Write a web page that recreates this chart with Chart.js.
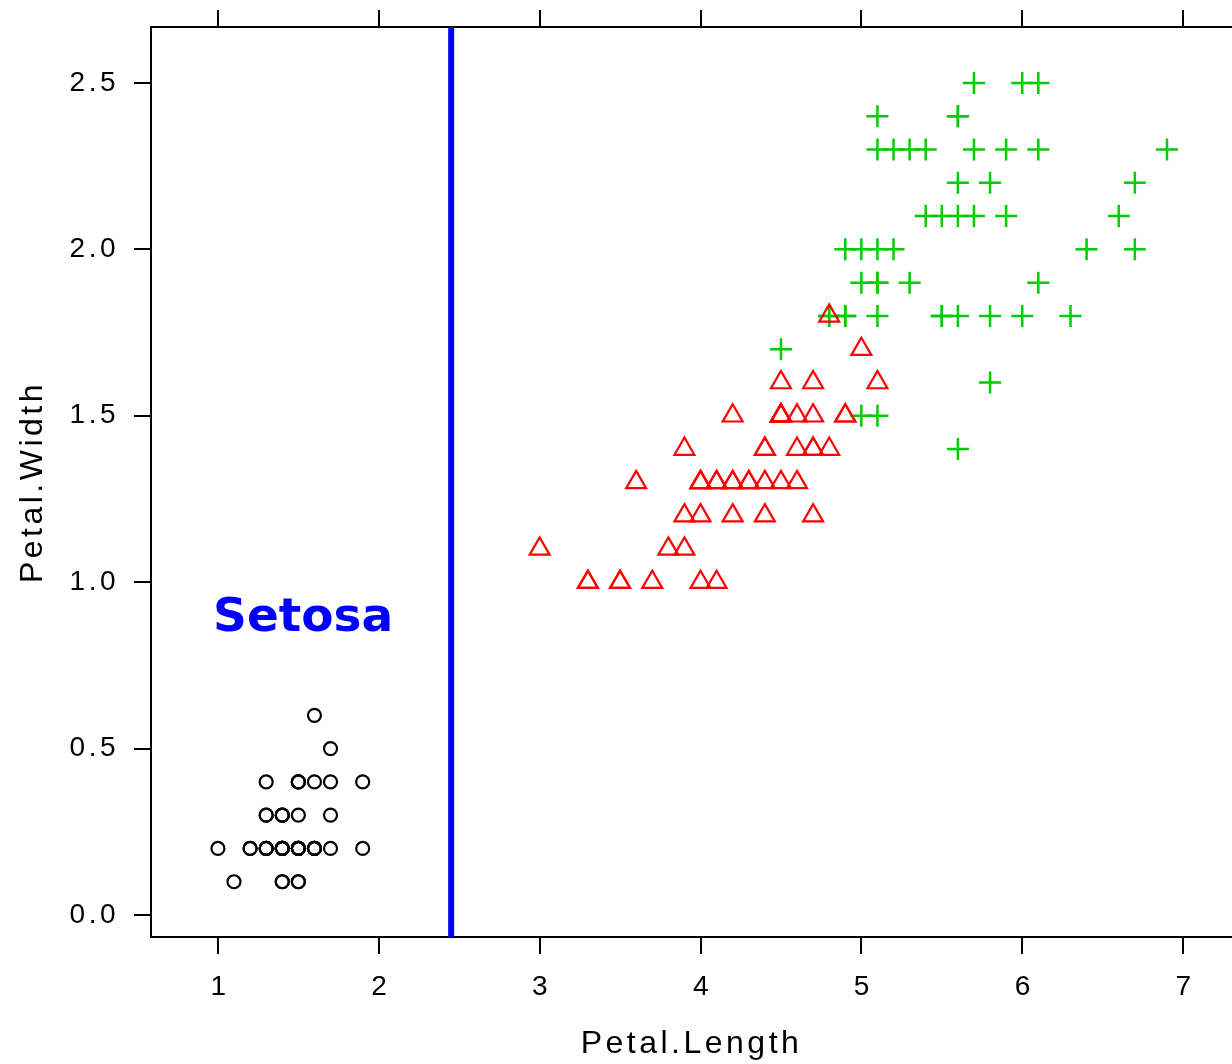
<!DOCTYPE html>
<html>
<head>
<meta charset="utf-8">
<script src="https://cdn.jsdelivr.net/npm/chart.js@4"></script>
<style>
  body { margin: 0; background: #fff; }
  canvas { display: block; }
</style>
</head>
<body>
<canvas id="irisChart" width="1232" height="1064"></canvas>
<script>
const setosaLength = [1.4,1.4,1.3,1.5,1.4,1.7,1.4,1.5,1.4,1.5,1.5,1.6,1.4,1.1,1.2,1.5,1.3,1.4,1.7,1.5,1.7,1.5,1.0,1.7,1.9,1.6,1.6,1.5,1.4,1.6,1.6,1.5,1.5,1.4,1.5,1.2,1.3,1.4,1.3,1.5,1.3,1.3,1.3,1.6,1.9,1.4,1.6,1.4,1.5,1.4];
const setosaWidth  = [0.2,0.2,0.2,0.2,0.2,0.4,0.3,0.2,0.2,0.1,0.2,0.2,0.1,0.1,0.2,0.4,0.4,0.3,0.3,0.3,0.2,0.4,0.2,0.5,0.2,0.2,0.4,0.2,0.2,0.2,0.2,0.4,0.1,0.2,0.2,0.2,0.2,0.1,0.2,0.2,0.3,0.3,0.2,0.6,0.4,0.3,0.2,0.2,0.2,0.2];

const versicolorLength = [4.7,4.5,4.9,4.0,4.6,4.5,4.7,3.3,4.6,3.9,3.5,4.2,4.0,4.7,3.6,4.4,4.5,4.1,4.5,3.9,4.8,4.0,4.9,4.7,4.3,4.4,4.8,5.0,4.5,3.5,3.8,3.7,3.9,5.1,4.5,4.5,4.7,4.4,4.1,4.0,4.4,4.6,4.0,3.3,4.2,4.2,4.2,4.3,3.0,4.1];
const versicolorWidth  = [1.4,1.5,1.5,1.3,1.5,1.3,1.6,1.0,1.3,1.4,1.0,1.5,1.0,1.4,1.3,1.4,1.5,1.0,1.5,1.1,1.8,1.3,1.5,1.2,1.3,1.4,1.4,1.7,1.5,1.0,1.1,1.0,1.2,1.6,1.5,1.6,1.5,1.3,1.3,1.3,1.2,1.4,1.2,1.0,1.3,1.2,1.3,1.3,1.1,1.3];

const virginicaLength = [6.0,5.1,5.9,5.6,5.8,6.6,4.5,6.3,5.8,6.1,5.1,5.3,5.5,5.0,5.1,5.3,5.5,6.7,6.9,5.0,5.7,4.9,6.7,4.9,5.7,6.0,4.8,4.9,5.6,5.8,6.1,6.4,5.6,5.1,5.6,6.1,5.6,5.5,4.8,5.4,5.6,5.1,5.1,5.9,5.7,5.2,5.0,5.2,5.4,5.1];
const virginicaWidth  = [2.5,1.9,2.1,1.8,2.2,2.1,1.7,1.8,1.8,2.5,2.0,1.9,2.1,2.0,2.4,2.3,1.8,2.2,2.3,1.5,2.3,2.0,2.0,1.8,2.1,1.8,1.8,1.8,2.1,1.6,1.9,2.0,2.2,1.5,1.4,2.3,2.4,1.8,1.8,2.1,2.4,2.3,1.9,2.3,2.5,2.3,1.9,2.0,2.3,1.8];

const xTicks = [1, 2, 3, 4, 5, 6, 7];
const yTicks = [0, 0.5, 1, 1.5, 2, 2.5];
const yTickLabels = ['0.0', '0.5', '1.0', '1.5', '2.0', '2.5'];
const splitLength = 2.45;   // the setosa cut
const xRange = [0.584, 7.304];
const yRange = [-0.066, 2.668];

const toPoints = (xs, ys) => xs.map((x, i) => ({ x: x, y: ys[i] }));

const axisFont = { family: "'Liberation Sans Narrow', 'Liberation Sans', sans-serif", size: 28 };
const titleFont = { family: "'Liberation Sans Narrow', 'Liberation Sans', sans-serif", size: 32 };

const gridOpts = { display: true, drawOnChartArea: false, drawTicks: true, tickLength: 17, lineWidth: 2, color: '#000' };
const borderOpts = { display: true, width: 2, color: '#000' };

// fixed axis boxes so the plot area sits where the original does
function fixBox(size) {
    return scale => {
        if (scale.isHorizontal()) scale.height = size; else scale.width = size;
        scale.paddingLeft = 0;
        scale.paddingRight = 0;
        scale.paddingTop = 0;
        scale.paddingBottom = 0;
    };
}

// wide letter spacing like the original device font
const spacingPlugin = {
    id: 'spacing',
    beforeDraw(chart) {
        chart.ctx.letterSpacing = '3.5px';
    }
};

// the "Setosa" note, placed in data coordinates
const notePlugin = {
    id: 'note',
    afterDatasetsDraw(chart) {
        const ctx = chart.ctx;
        const x = chart.scales.x.getPixelForValue(1.53);
        const y = chart.scales.y.getPixelForValue(0.89);
        ctx.save();
        ctx.letterSpacing = '0px';
        ctx.font = "bold 47px 'DejaVu Sans', sans-serif";
        ctx.fillStyle = '#0000ff';
        ctx.textAlign = 'center';
        ctx.textBaseline = 'middle';
        ctx.fillText('Setosa', x, y);
        ctx.restore();
    }
};

const ctx = document.getElementById('irisChart').getContext('2d');
const irisChart = new Chart(ctx, {
    type: 'scatter',
    data: {
        datasets: [
            {
                label: 'setosa',
                data: toPoints(setosaLength, setosaWidth),
                pointStyle: 'circle',
                pointRadius: 6.5,
                borderColor: '#000000',
                backgroundColor: 'rgba(0,0,0,0)',
                pointBorderWidth: 2.2
            },
            {
                label: 'versicolor',
                data: toPoints(versicolorLength, versicolorWidth),
                pointStyle: 'triangle',
                pointRadius: 11.5,
                borderColor: '#ff0000',
                backgroundColor: 'rgba(0,0,0,0)',
                pointBorderWidth: 2.2
            },
            {
                label: 'virginica',
                data: toPoints(virginicaLength, virginicaWidth),
                pointStyle: 'cross',
                pointRadius: 11,
                borderColor: '#00cd00',
                backgroundColor: '#00cd00',
                pointBorderWidth: 2.5
            },
            {
                label: 'split',
                data: [{ x: splitLength, y: yRange[0] }, { x: splitLength, y: yRange[1] }],
                showLine: true,
                borderColor: '#0000ff',
                borderWidth: 6,
                pointRadius: 0
            }
        ]
    },
    options: {
        responsive: false,
        animation: false,
        layout: { padding: 0, autoPadding: false },
        plugins: {
            legend: { display: false },
            tooltip: { enabled: false }
        },
        scales: {
            x: {
                type: 'linear',
                position: 'bottom',
                min: xRange[0],
                max: xRange[1],
                afterBuildTicks: scale => { scale.ticks = xTicks.map(v => ({ value: v })); },
                afterFit: fixBox(127),
                ticks: {
                    color: '#000',
                    font: axisFont,
                    padding: 16,
                    labelOffset: 2,
                    maxRotation: 0,
                    callback: v => String(v)
                },
                grid: gridOpts,
                border: borderOpts,
                title: {
                    display: true,
                    text: 'Petal.Length',
                    color: '#000',
                    font: titleFont,
                    padding: { top: 0, bottom: 1 }
                }
            },
            xTop: {
                type: 'linear',
                position: 'top',
                min: xRange[0],
                max: xRange[1],
                afterBuildTicks: scale => { scale.ticks = xTicks.map(v => ({ value: v })); },
                afterFit: fixBox(27),
                ticks: { display: false },
                grid: gridOpts,
                border: borderOpts
            },
            y: {
                type: 'linear',
                position: 'left',
                min: yRange[0],
                max: yRange[1],
                afterBuildTicks: scale => { scale.ticks = yTicks.map(v => ({ value: v })); },
                afterFit: fixBox(151),
                ticks: {
                    color: '#000',
                    font: axisFont,
                    padding: 15,
                    callback: v => yTickLabels[yTicks.indexOf(v)]
                },
                grid: gridOpts,
                border: borderOpts,
                title: {
                    display: true,
                    text: 'Petal.Width',
                    color: '#000',
                    font: titleFont,
                    padding: { top: 14, bottom: 0 }
                }
            }
        }
    },
    plugins: [spacingPlugin, notePlugin]
});
</script>
</body>
</html>
